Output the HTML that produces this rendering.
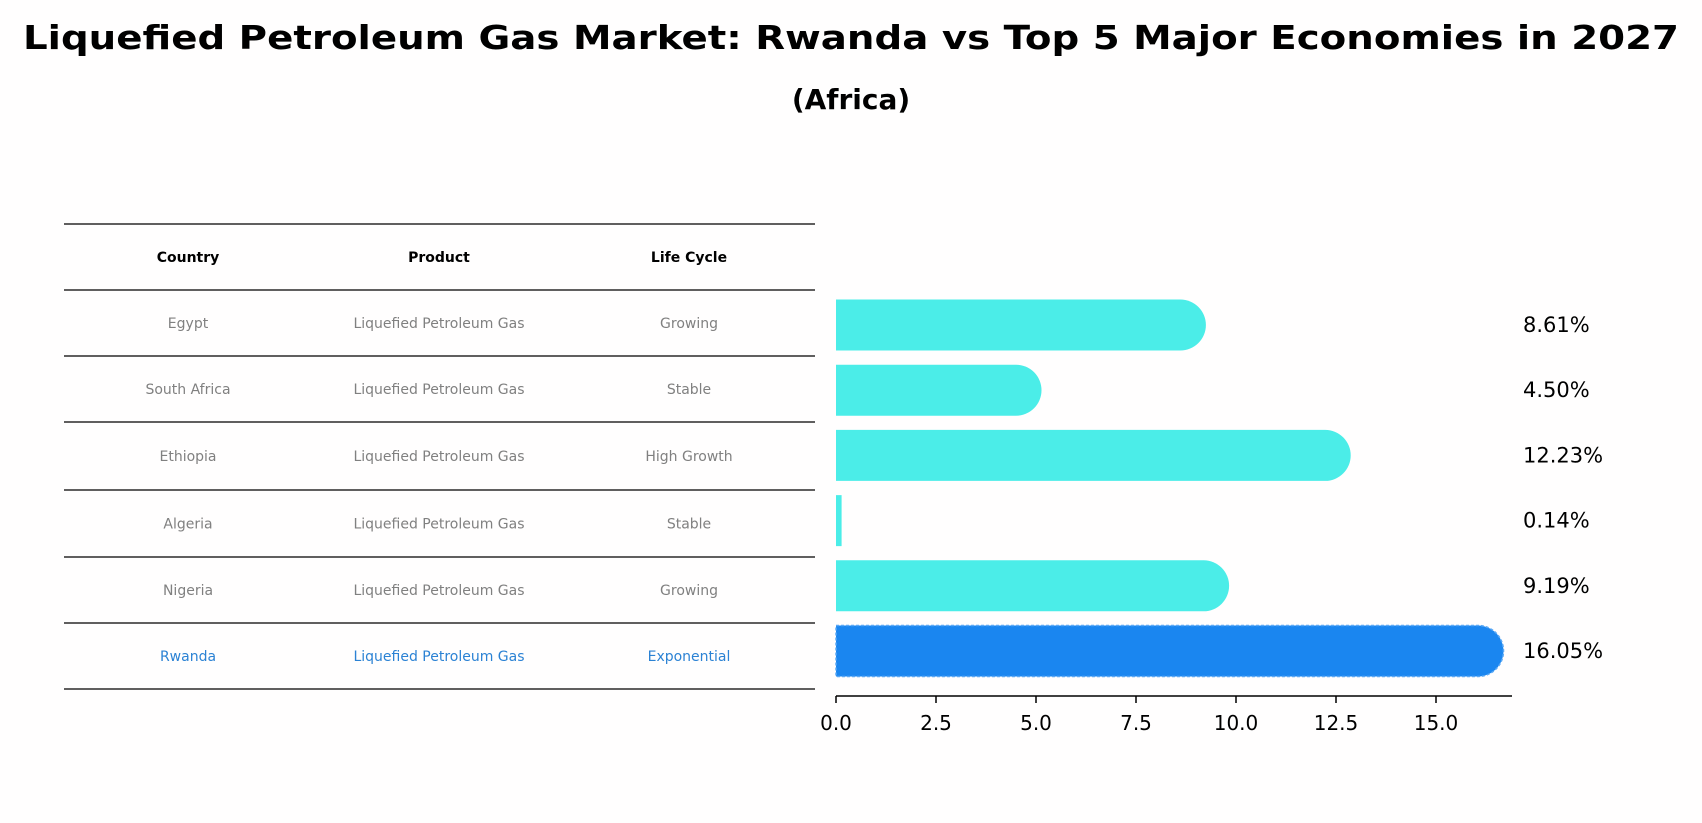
<!DOCTYPE html>
<html><head><meta charset="utf-8"><style>
html,body{margin:0;padding:0;background:#fffefe;}
svg{display:block;font-family:"DejaVu Sans","Liberation Sans",sans-serif;}
</style></head><body>
<svg id="chart" width="1702" height="823" viewBox="0 0 1702 823" xmlns="http://www.w3.org/2000/svg">
<rect width="1702" height="823" fill="#fffefe"/>
<text x="851" y="49" text-anchor="middle" font-size="33" font-weight="bold" textLength="1656" lengthAdjust="spacingAndGlyphs">Liquefied Petroleum Gas Market: Rwanda vs Top 5 Major Economies in 2027</text>
<text x="851" y="109" text-anchor="middle" font-size="28" font-weight="bold">(Africa)</text>
<g id="table"></g>
<g id="bars"></g>
</svg>
<script>
const countries = ["Egypt","South Africa","Ethiopia","Algeria","Nigeria","Rwanda"];
const products = ["Liquefied Petroleum Gas","Liquefied Petroleum Gas","Liquefied Petroleum Gas","Liquefied Petroleum Gas","Liquefied Petroleum Gas","Liquefied Petroleum Gas"];
const lifeCycles = ["Growing","Stable","High Growth","Stable","Growing","Exponential"];
const growthValues = [8.61,4.50,12.23,0.14,9.19,16.05];
const tickValues = [0,2.5,5,7.5,10,12.5,15];
const tickLabels = ["0.0","2.5","5.0","7.5","10.0","12.5","15.0"];

const NS="http://www.w3.org/2000/svg";
function mk(tag, attrs, parent){const e=document.createElementNS(NS,tag);for(const k in attrs)e.setAttribute(k,attrs[k]);parent.appendChild(e);return e;}
const table=document.getElementById('table');
const bars=document.getElementById('bars');

// table
const lineYs=[224,290,356,422,490,557,623,689];
const colX=[188,439,689];
const headers=["Country","Product","Life Cycle"];
lineYs.forEach((y,i)=>{
  const l=mk('line',{x1:64,x2:815,y1:y,y2:y,stroke:'#000','stroke-width':1.2},table);
  
  
});
headers.forEach((h,j)=>{
  const t=mk('text',{x:colX[j],y:(lineYs[0]+lineYs[1])/2+5,'text-anchor':'middle','font-size':14,'font-weight':'bold',fill:'#000'},table);
  t.textContent=h;
  
  
});
countries.forEach((c,i)=>{
  const y=(lineYs[i+1]+lineYs[i+2])/2+5;
  const col=c==="Rwanda"?'#2b82d4':'#808080';
  [c,products[i],lifeCycles[i]].forEach((v,j)=>{
    const t=mk('text',{x:colX[j],y:y,'text-anchor':'middle','font-size':14,fill:col},table);
    t.textContent=v;
    
    
  });
});

// bar chart axes
const x0=836, pxPerUnit=40;
function xs(v){return x0+v*pxPerUnit;}
const rowCenter0=325, rowStep=65.2, barH=51;
function yc(i){return rowCenter0+i*rowStep;}
const axisY=696;
const ax=mk('line',{x1:x0,x2:1512,y1:axisY,y2:axisY,stroke:'#000','stroke-width':1.5},bars);


tickValues.forEach((v,i)=>{
  const tk=mk('line',{x1:xs(v),x2:xs(v),y1:axisY,y2:axisY+7,stroke:'#000','stroke-width':1.5},bars);
  
  
  const t=mk('text',{x:xs(v),y:axisY+34,'text-anchor':'middle','font-size':20,fill:'#000'},bars);
  t.textContent=tickLabels[i];
  
  
});
growthValues.forEach((v,i)=>{
  const isR=countries[i]==="Rwanda";
  const fill=isR?'#1a86f0':'#4bede8';
  const w=v*pxPerUnit, r=barH/2, top=yc(i)-r;
  let d;
  if(w>r){
    d=`M${x0},${top} H${x0+w} A${r},${r} 0 0 1 ${x0+w},${top+barH} H${x0} Z`;
  } else {
    d=`M${x0},${top} H${x0+w} V${top+barH} H${x0} Z`;
  }
  const attrs={d:d,fill:fill};
  if(isR){attrs.stroke='#5aa8f5';attrs['stroke-width']=1.5;attrs['stroke-dasharray']='3,2';}
  const b=mk('path',attrs,bars);
  
  
  const t=mk('text',{x:1523,y:yc(i)+7,'font-size':21,fill:'#000'},bars);
  t.textContent=v.toFixed(2)+'%';
  
  
});
</script>
</body></html>
